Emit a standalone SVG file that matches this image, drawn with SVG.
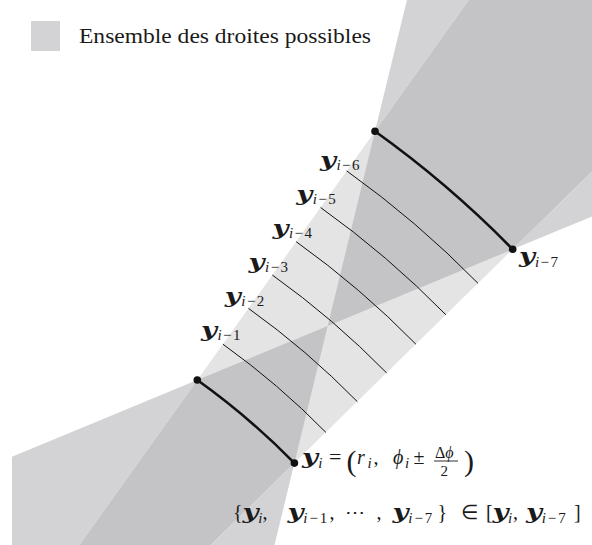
<svg xmlns="http://www.w3.org/2000/svg" width="592" height="545" viewBox="0 0 592 545">
<style>
.light{fill:#e4e4e5}
.med{fill:#d3d3d5}
.dark{fill:#c4c4c7}
.thick{fill:none;stroke:#111;stroke-width:2.6;stroke-linecap:round}
.thin{fill:none;stroke:#111;stroke-width:1}
.pt{fill:#111}
text{font-family:"Liberation Serif","Times New Roman",serif;fill:#1a1a1a;font-size:20px}
.vy{font-family:"DejaVu Serif",serif;font-weight:bold;font-style:italic;font-size:21px}
.sub{font-size:15px}
.it{font-style:italic}
</style>
<rect width="592" height="545" fill="#fff"/>
<g id="regions">
  <path class="med" d="M375,131.3 L406.9,0 L468.8,0 Z"/>
  <path class="dark" d="M375,131.3 L468.8,0 L592,0 L592,171.6 L512.7,249.3 A1035.6,1035.6 0 0 0 375,131.3 Z"/>
  <path class="med" d="M512.7,249.3 L592,171.6 L592,216.4 Z"/>
  <path class="light" d="M375,131.3 A1035.6,1035.6 0 0 1 512.7,249.3 L294.4,463.1 A730,730 0 0 0 197.3,380 Z"/>
  <path class="dark" d="M375,131.3 A1035.6,1035.6 0 0 1 512.7,249.3 L327.7,326 Z"/>
  <path class="dark" d="M197.3,380 A730,730 0 0 1 294.4,463.1 L327.7,326 Z"/>
  <path class="med" d="M197.3,380 L12,456.8 L12,545 L79.4,545 Z"/>
  <path class="dark" d="M197.3,380 L79.4,545 L210.8,545 L294.4,463.1 A730,730 0 0 0 197.3,380 Z"/>
  <path class="med" d="M294.4,463.1 L210.8,545 L274.5,545 Z"/>
</g>
<g id="legend">
  <rect class="med" x="31" y="21" width="29" height="30"/>
  <text x="79" y="42.5" font-size="20.5" textLength="292" lengthAdjust="spacingAndGlyphs">Ensemble des droites possibles</text>
</g>
<g id="connectors">
  <path class="thin" d="M222.9,344.2 A774,774 0 0 1 325.9,432.4"/>
  <path class="thin" d="M248.5,308.4 A818,818 0 0 1 357.3,401.6"/>
  <path class="thin" d="M272.3,275 A859,859 0 0 1 386.6,372.9"/>
  <path class="thin" d="M296.2,241.7 A900,900 0 0 1 415.9,344.2"/>
  <path class="thin" d="M320.6,207.5 A942,942 0 0 1 445.9,314.8"/>
  <path class="thin" d="M346.7,170.9 A987,987 0 0 1 478,283.3"/>
  <path class="thick" d="M375,131.3 A1035.6,1035.6 0 0 1 512.7,249.3"/>
  <path class="thick" d="M197.3,380 A730,730 0 0 1 294.4,463.1"/>
</g>
<g id="node-A"><circle class="pt" cx="375" cy="131.3" r="3.8"/></g>
<g id="node-B"><circle class="pt" cx="512.7" cy="249.3" r="3.8"/>
  <text y="263"><tspan class="vy" x="519" textLength="16" lengthAdjust="spacingAndGlyphs">y</tspan><tspan class="sub" x="535" y="266.5" textLength="23"><tspan class="it">i</tspan>−7</tspan></text>
</g>
<g id="node-C"><circle class="pt" cx="197.3" cy="380" r="3.8"/></g>
<g id="node-D"><circle class="pt" cx="294.4" cy="463.1" r="3.8"/>
  <text y="464"><tspan class="vy" x="302" textLength="16" lengthAdjust="spacingAndGlyphs">y</tspan><tspan class="sub it" x="318.3" y="467.5">i</tspan><tspan x="329" y="464" font-size="22">=</tspan><tspan x="346.5" y="470.5" font-size="30">(</tspan><tspan class="it" x="357" y="464">r</tspan><tspan class="sub it" x="367.5" y="467.5">i</tspan><tspan x="373.5" y="464">,</tspan><tspan class="it" x="393" y="464">ϕ</tspan><tspan class="sub it" x="405" y="467.5">i</tspan><tspan x="413.5" y="464">±</tspan><tspan x="435" y="458" font-size="16">Δ<tspan class="it">ϕ</tspan></tspan><tspan x="440.5" y="476" font-size="15">2</tspan><tspan x="464" y="470.5" font-size="30">)</tspan></text>
  <line x1="434" y1="461" x2="458" y2="461" stroke="#1a1a1a" stroke-width="0.9"/>
</g>
<g id="labels">
  <text y="336.7"><tspan class="vy" x="201" textLength="16" lengthAdjust="spacingAndGlyphs">y</tspan><tspan class="sub" x="217.5" y="340.2" textLength="23"><tspan class="it">i</tspan>−1</tspan></text>
  <text y="302.7"><tspan class="vy" x="224.8" textLength="16" lengthAdjust="spacingAndGlyphs">y</tspan><tspan class="sub" x="241.3" y="306.2" textLength="23"><tspan class="it">i</tspan>−2</tspan></text>
  <text y="268.7"><tspan class="vy" x="248.6" textLength="16" lengthAdjust="spacingAndGlyphs">y</tspan><tspan class="sub" x="265.1" y="272.2" textLength="23"><tspan class="it">i</tspan>−3</tspan></text>
  <text y="234.7"><tspan class="vy" x="272.4" textLength="16" lengthAdjust="spacingAndGlyphs">y</tspan><tspan class="sub" x="288.9" y="238.2" textLength="23"><tspan class="it">i</tspan>−4</tspan></text>
  <text y="200.7"><tspan class="vy" x="296.2" textLength="16" lengthAdjust="spacingAndGlyphs">y</tspan><tspan class="sub" x="312.7" y="204.2" textLength="23"><tspan class="it">i</tspan>−5</tspan></text>
  <text y="166.7"><tspan class="vy" x="320" textLength="16" lengthAdjust="spacingAndGlyphs">y</tspan><tspan class="sub" x="336.5" y="170.2" textLength="23"><tspan class="it">i</tspan>−6</tspan></text>
  <text y="519"><tspan x="233">{</tspan><tspan class="vy" x="242.5" textLength="16" lengthAdjust="spacingAndGlyphs">y</tspan><tspan class="sub it" x="258.3" y="522.5">i</tspan><tspan x="262.5" y="519">,</tspan><tspan class="vy" x="287.5" textLength="16" lengthAdjust="spacingAndGlyphs">y</tspan><tspan class="sub" x="303.3" y="522.5" textLength="24"><tspan class="it">i</tspan>−1</tspan><tspan x="329.5" y="519">,</tspan><tspan x="345" y="519">⋯</tspan><tspan x="376.5" y="519">,</tspan><tspan class="vy" x="392.5" textLength="16" lengthAdjust="spacingAndGlyphs">y</tspan><tspan class="sub" x="408.3" y="522.5" textLength="24"><tspan class="it">i</tspan>−7</tspan><tspan x="437.5" y="519">}</tspan><tspan x="461" y="519">∈</tspan><tspan x="486" y="519">[</tspan><tspan class="vy" x="492.5" textLength="16" lengthAdjust="spacingAndGlyphs">y</tspan><tspan class="sub it" x="508" y="522.5">i</tspan><tspan x="513" y="519">,</tspan><tspan class="vy" x="526" textLength="16" lengthAdjust="spacingAndGlyphs">y</tspan><tspan class="sub" x="541.7" y="522.5" textLength="24"><tspan class="it">i</tspan>−7</tspan><tspan x="574" y="519">]</tspan></text>
</g>
</svg>
